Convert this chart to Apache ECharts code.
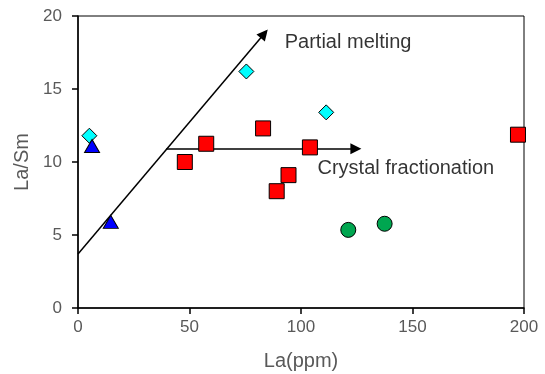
<!DOCTYPE html>
<html>
<head>
<meta charset="utf-8">
<script src="https://cdn.jsdelivr.net/npm/echarts@6/dist/echarts.min.js"></script>
<style>
html,body{margin:0;padding:0;background:#fff;}
#chart{width:545px;height:374px;}
</style>
</head>
<body>
<div id="chart"></div>
<script>
// Data
var triangles = [[6.3, 11.1], [14.7, 5.9]];
var diamonds = [[5.1, 11.8], [75.5, 16.2], [111.3, 13.4]];
var squares = [[47.9, 10.0], [57.5, 11.25], [83.0, 12.3], [104.0, 11.0], [94.4, 9.1], [89.1, 8.0], [197.3, 11.87]];
var circles = [[121.2, 5.35], [137.5, 5.77]];

// Trend arrows (data coordinates)
var meltingArrow = [[0, 3.7], [83.5, 18.78]];
var fractionationArrow = [[39.5, 10.9], [124.6, 10.9]];

// Annotations
var annotations = [
  { name: 'Partial melting', value: [92.7, 18.2] },
  { name: 'Crystal fractionation', value: [107.4, 9.53] }
];

var xTicks = { min: 0, max: 200, interval: 50 };
var yTicks = { min: 0, max: 20, interval: 5 };

var FONT = '"Liberation Sans", Arial, sans-serif';
var chart = echarts.init(document.getElementById('chart'), null, { renderer: 'canvas' });

function markerStyle(color) {
  return { color: color, borderColor: '#000', borderWidth: 1, opacity: 1 };
}

var option = {
  animation: false,
  backgroundColor: '#fff',
  grid: {
    left: 78, right: 21, top: 16, bottom: 66,
    containLabel: false, outerBoundsMode: 'none',
    show: true, borderColor: '#000', borderWidth: 1, backgroundColor: 'transparent'
  },
  xAxis: {
    type: 'value', min: xTicks.min, max: xTicks.max, interval: xTicks.interval,
    name: 'La(ppm)', nameLocation: 'middle', nameGap: 43,
    nameTextStyle: { color: '#595959', fontSize: 20, fontFamily: FONT },
    axisLine: { show: true, lineStyle: { color: '#000', width: 1.5 } },
    axisTick: { show: true, inside: false, length: 6, lineStyle: { color: '#000', width: 1.5 } },
    axisLabel: { color: '#595959', fontSize: 17, fontFamily: FONT, margin: 11 },
    splitLine: { show: false }
  },
  yAxis: {
    type: 'value', min: yTicks.min, max: yTicks.max, interval: yTicks.interval,
    name: 'La/Sm', nameLocation: 'middle', nameGap: 42,
    nameTextStyle: { color: '#595959', fontSize: 20, fontFamily: FONT },
    axisLine: { show: true, lineStyle: { color: '#000', width: 1.5 } },
    axisTick: { show: true, inside: false, length: 6, lineStyle: { color: '#000', width: 1.5 } },
    axisLabel: { color: '#595959', fontSize: 17, fontFamily: FONT, margin: 16 },
    splitLine: { show: false }
  },
  series: [
    {
      type: 'lines', coordinateSystem: 'cartesian2d', silent: true, z: 3,
      symbol: ['none', 'triangle'], symbolSize: [9, 11],
      lineStyle: { color: '#000', width: 1.5, opacity: 1 },
      data: [{ coords: meltingArrow }, { coords: fractionationArrow }]
    },
    {
      type: 'scatter', name: 'circles', symbol: 'circle', symbolSize: 15, z: 5,
      itemStyle: markerStyle('#00A650'), data: circles
    },
    {
      type: 'scatter', name: 'squares', symbol: 'rect', symbolSize: 15, z: 5,
      itemStyle: markerStyle('#FF0000'), data: squares
    },
    {
      type: 'scatter', name: 'diamonds', symbol: 'diamond', symbolSize: 15, z: 5,
      itemStyle: markerStyle('#00FFFF'), data: diamonds
    },
    {
      type: 'scatter', name: 'triangles', symbol: 'triangle', symbolSize: [15, 13], z: 5,
      itemStyle: markerStyle('#0000FF'), data: triangles
    },
    {
      type: 'scatter', name: 'annotations', symbolSize: 0, silent: true, z: 6,
      label: {
        show: true, position: 'right', distance: 0,
        formatter: function (p) { return p.name; },
        color: '#000', fontSize: 20, fontFamily: FONT
      },
      data: annotations
    }
  ]
};
chart.setOption(option);
</script>
</body>
</html>
